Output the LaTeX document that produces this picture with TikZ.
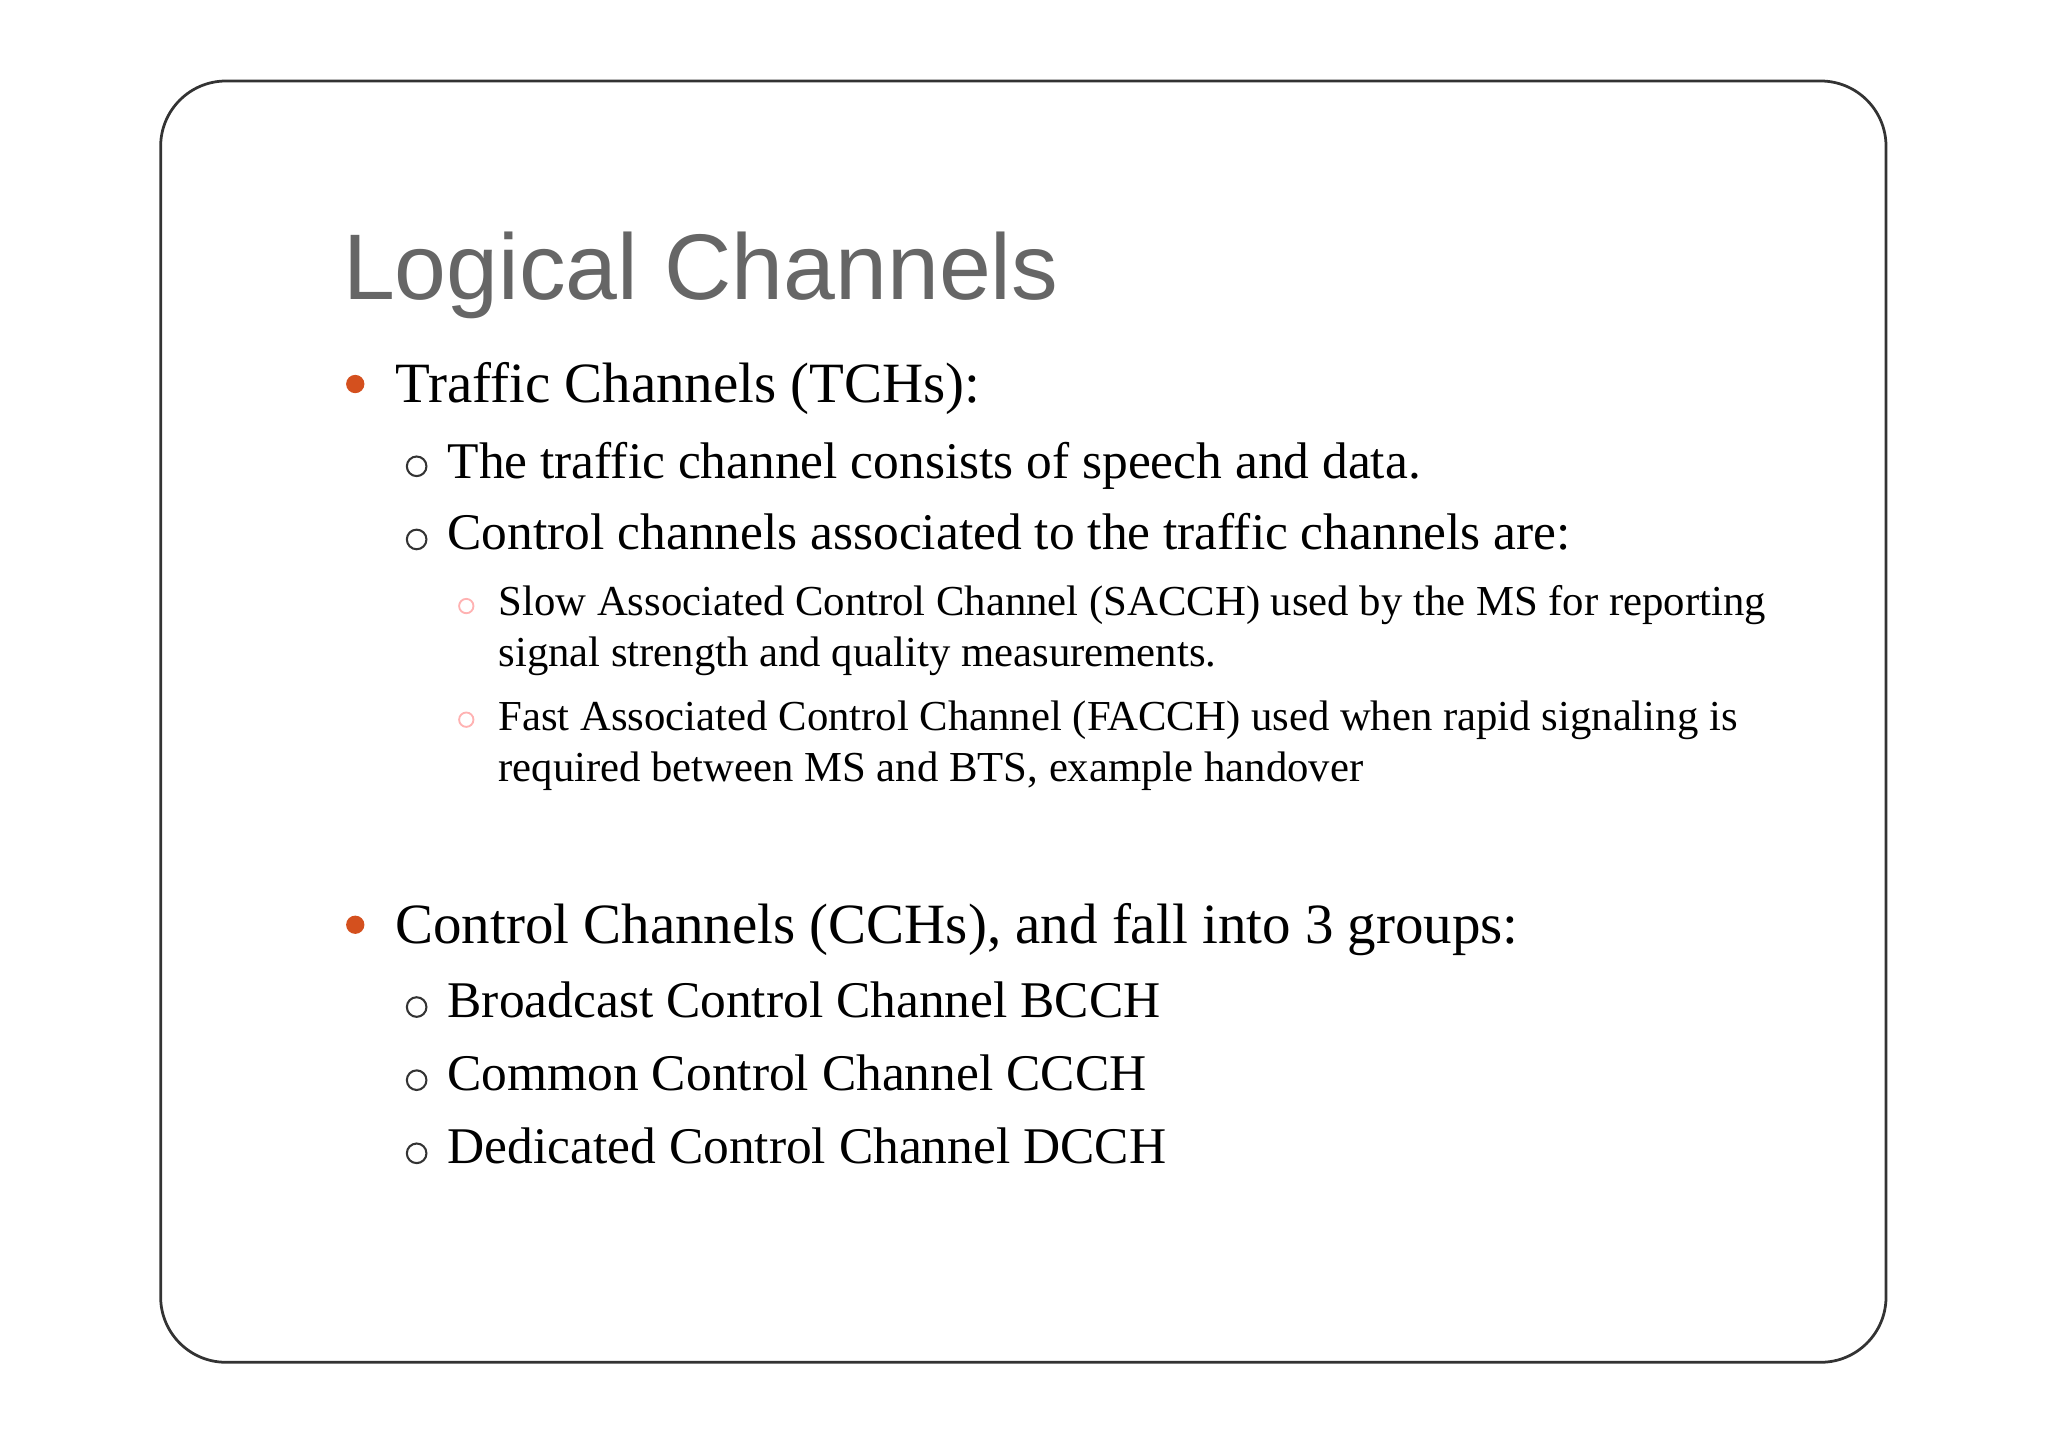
\documentclass[tikz,border=0pt]{standalone}
\usepackage{fontspec}
\setmainfont{Liberation Serif}
\newfontfamily\titlefont{Liberation Sans}
\definecolor{bul}{RGB}{212,80,30}
\begin{document}
\begin{tikzpicture}[x=0.01cm,y=-0.01cm,
  lone/.style={anchor=base west,inner sep=0,font=\fontsize{12.4}{15}\selectfont},
  ltwo/.style={anchor=base west,inner sep=0,font=\fontsize{11.2}{13}\selectfont},
  lthree/.style={anchor=base west,inner sep=0,font=\fontsize{9.3}{11.3}\selectfont},
  dotb/.style={circle,fill=bul,inner sep=0,minimum size=0.14cm},
  ringb/.style={circle,draw=black!80,line width=0.45pt,inner sep=0,minimum size=0.15cm},
  sring/.style={circle,draw=red!30,line width=0.4pt,inner sep=0,minimum size=0.11cm}]
\useasboundingbox (0,0) rectangle (1568,1108);
\draw[black!80,line width=0.6pt,rounded corners=0.5cm] (123,62) rectangle (1444,1043);
\node[anchor=base west,inner sep=0,text=black!60,font=\titlefont\fontsize{20.3}{24}\selectfont] (title) at (262,229) {Logical Channels};
\node[dotb] (b1) at (272,294) {};
\node[lone] (t1) at (302,308) {Traffic Channels (TCHs):};
\node[ringb] (r1) at (319,357) {};
\node[ltwo] (t2) at (342,366) {The traffic channel consists of speech and data.};
\node[ringb] (r2) at (319,413) {};
\node[ltwo] (t3) at (342,421) {Control channels associated to the traffic channels are:};
\node[sring] (s1) at (357,464) {};
\node[lthree] (t4) at (381,471) {Slow Associated Control Channel (SACCH) used by the MS for reporting};
\node[lthree] (t4b) at (381,510) {signal strength and quality measurements.};
\node[sring] (s2) at (357,551) {};
\node[lthree] (t5) at (381,559) {Fast Associated Control Channel (FACCH) used when rapid signaling is};
\node[lthree] (t5b) at (381,598) {required between MS and BTS, example handover};
\node[dotb] (b2) at (272,708) {};
\node[lone] (t6) at (302,722) {Control Channels (CCHs), and fall into 3 groups:};
\node[ringb] (r3) at (319,771) {};
\node[ltwo] (t7) at (342,779) {Broadcast Control Channel BCCH};
\node[ringb] (r4) at (319,827) {};
\node[ltwo] (t8) at (342,835) {Common Control Channel CCCH};
\node[ringb] (r5) at (319,883) {};
\node[ltwo] (t9) at (342,891) {Dedicated Control Channel DCCH};
\end{tikzpicture}
\end{document}
